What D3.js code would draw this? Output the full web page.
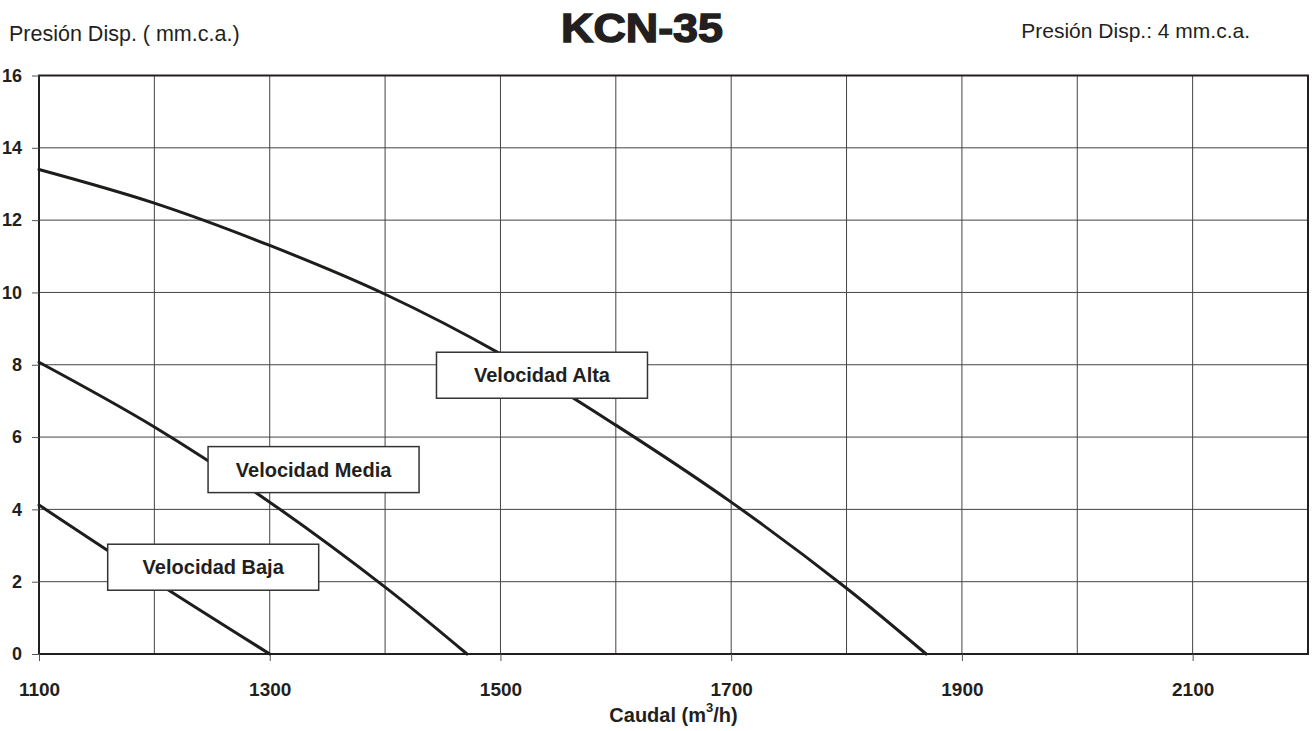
<!DOCTYPE html>
<html>
<head>
<meta charset="utf-8">
<script src="https://cdn.jsdelivr.net/npm/d3@7"></script>
<style>
  body { margin: 0; background: #fff; }
  text { font-family: "Liberation Sans", Arial, sans-serif; fill: #231f20; }
</style>
</head>
<body>
<div class="chart"></div>
<script>
// KCN-35 fan curves
var svgWidth = 1314;
var svgHeight = 731;

// caudal (m3/h) / presion (mm.c.a.)
var altaCaudal = [1100, 1200, 1300, 1400, 1500, 1600, 1700, 1800, 1869];
var altaPresion = [13.4, 12.47, 11.3, 9.95, 8.3, 6.33, 4.2, 1.82, 0];

var mediaCaudal = [1100, 1200, 1300, 1400, 1471];
var mediaPresion = [8.07, 6.28, 4.2, 1.85, 0];

var bajaCaudal = [1100, 1200, 1300];
var bajaPresion = [4.12, 2.02, 0];

// label boxes, centred at (caudal, presion)
var labelText = ["Velocidad Alta", "Velocidad Media", "Velocidad Baja"];
var labelCaudal = [1536, 1338, 1251];
var labelPresion = [7.71, 5.1, 2.4];

var xTicks = [1100, 1300, 1500, 1700, 1900, 2100];
var yTicks = [0, 2, 4, 6, 8, 10, 12, 14, 16];

var margin = { top: 75.5, right: 6, bottom: 77, left: 39 };
var width = svgWidth - margin.left - margin.right;
var height = svgHeight - margin.top - margin.bottom;

var svg = d3.select(".chart")
    .append("svg")
    .attr("width", svgWidth)
    .attr("height", svgHeight);

var chartGroup = svg.append("g")
    .attr("transform", `translate(${margin.left}, ${margin.top})`);

var xScale = d3.scaleLinear().domain([1100, 2200]).range([0, width]);
var yScale = d3.scaleLinear().domain([0, 16]).range([height, 0]);

// grid
chartGroup.append("g")
    .selectAll("line")
    .data(d3.range(1200, 2200, 100))
    .enter()
    .append("line")
    .attr("x1", d => xScale(d)).attr("x2", d => xScale(d))
    .attr("y1", 0).attr("y2", height)
    .attr("stroke", "#444").attr("stroke-width", 1);

chartGroup.append("g")
    .selectAll("line")
    .data(yTicks.slice(1, -1))
    .enter()
    .append("line")
    .attr("x1", 0).attr("x2", width)
    .attr("y1", d => yScale(d)).attr("y2", d => yScale(d))
    .attr("stroke", "#444").attr("stroke-width", 1);

// frame
chartGroup.append("rect")
    .attr("width", width).attr("height", height)
    .attr("fill", "none").attr("stroke", "#231f20").attr("stroke-width", 2);

// axes
var bottomAxis = d3.axisBottom(xScale)
    .tickValues(xTicks)
    .tickFormat(d3.format("d"))
    .tickSize(7).tickPadding(22);
var leftAxis = d3.axisLeft(yScale)
    .tickValues(yTicks)
    .tickFormat(d3.format("d"))
    .tickSize(7).tickPadding(10);

var xAxis = chartGroup.append("g")
    .attr("transform", `translate(0, ${height})`)
    .call(bottomAxis);
var yAxis = chartGroup.append("g").call(leftAxis);

[xAxis, yAxis].forEach(function (ax) {
  ax.attr("font-family", null).attr("font-size", null);
  ax.select(".domain").remove();
  ax.selectAll(".tick line").attr("stroke", "#555").attr("stroke-width", 1);
  ax.selectAll(".tick text")
    .attr("fill", "#231f20")
    .style("font-weight", "bold");
});
xAxis.selectAll(".tick text").style("font-size", "19px");
yAxis.selectAll(".tick text").style("font-size", "18px").attr("x", -17);

// curves
var line = d3.line()
    .x(d => xScale(d[0]))
    .y(d => yScale(d[1]))
    .curve(d3.curveCatmullRom.alpha(0.5));

var series = [
  d3.zip(altaCaudal, altaPresion),
  d3.zip(mediaCaudal, mediaPresion),
  d3.zip(bajaCaudal, bajaPresion)
];

chartGroup.selectAll(".curve")
    .data(series)
    .enter()
    .append("path")
    .attr("class", "curve")
    .attr("d", line)
    .attr("fill", "none")
    .attr("stroke", "#1d1d1b")
    .attr("stroke-width", 3)
    .attr("stroke-linecap", "round");

// label boxes
var labels = chartGroup.selectAll(".lbl")
    .data(labelText)
    .enter()
    .append("g")
    .attr("class", "lbl")
    .attr("transform", (d, i) => `translate(${xScale(labelCaudal[i])}, ${yScale(labelPresion[i])})`);

labels.append("rect")
    .attr("x", -105.5).attr("y", -23)
    .attr("width", 211).attr("height", 46)
    .attr("fill", "#fff")
    .attr("stroke", "#333")
    .attr("stroke-width", 1.5);

labels.append("text")
    .attr("text-anchor", "middle")
    .attr("y", 7)
    .style("font-size", "20px")
    .style("font-weight", "bold")
    .text(d => d);

// titles
svg.append("text")
    .attr("x", 9).attr("y", 40.5)
    .style("font-size", "21.5px")
    .text("Presión Disp. ( mm.c.a.)");

svg.append("text")
    .attr("x", 561).attr("y", 41.5)
    .attr("textLength", 162)
    .attr("lengthAdjust", "spacingAndGlyphs")
    .style("font-size", "40px")
    .style("font-weight", "bold")
    .style("stroke", "#231f20")
    .style("stroke-width", 1.4)
    .text("KCN-35");

svg.append("text")
    .attr("x", 1250).attr("y", 37.5)
    .attr("text-anchor", "end")
    .style("font-size", "21px")
    .text("Presión Disp.: 4 mm.c.a.");

// x axis title with superscript
var xTitle = svg.append("text")
    .attr("x", margin.left + width / 2)
    .attr("y", 722)
    .attr("text-anchor", "middle")
    .style("font-size", "20px")
    .style("font-weight", "bold");
xTitle.append("tspan").text("Caudal (m");
xTitle.append("tspan").attr("dy", -10).style("font-size", "13px").text("3");
xTitle.append("tspan").attr("dy", 10).text("/h)");
</script>
</body>
</html>
